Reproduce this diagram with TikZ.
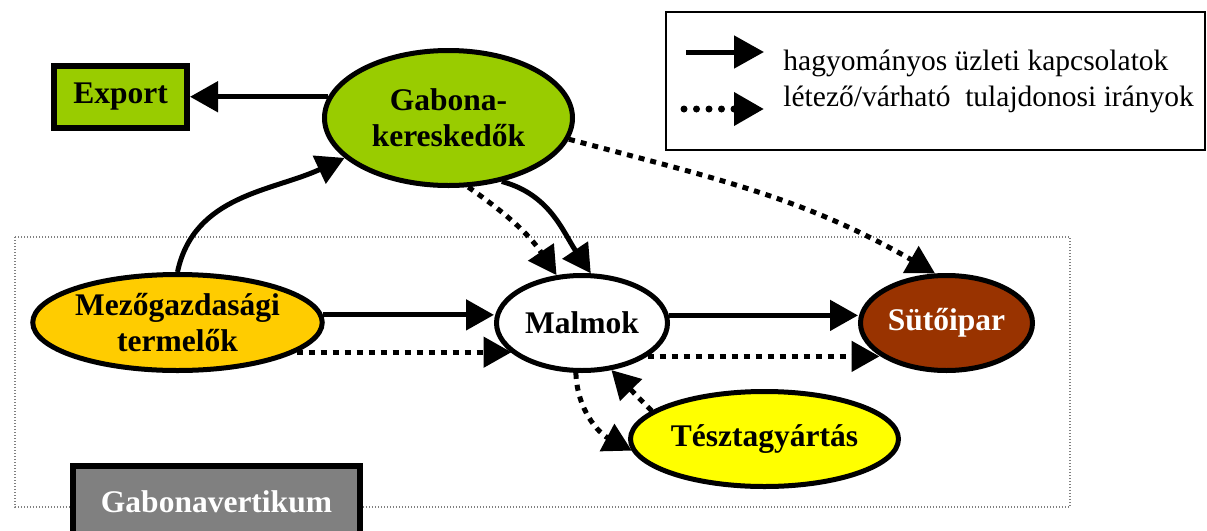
\documentclass[tikz,border=0pt]{standalone}
\usepackage{fontspec}
\setmainfont{Liberation Serif}
\usetikzlibrary{shapes.geometric}
\usetikzlibrary{arrows.meta}
\definecolor{gabgreen}{HTML}{99CC00}
\definecolor{mezyellow}{HTML}{FFCC00}
\definecolor{sutbrown}{HTML}{993300}
\definecolor{teszyellow}{HTML}{FFFF00}
\definecolor{vertgray}{HTML}{808080}
\tikzset{%
  tradearrow/.style = {-{Triangle[length=14pt,width=15pt]},line width=2.5pt},
  ownarrow/.style = {-{Triangle[length=14pt,width=15pt]},line width=2.5pt,
        dash pattern=on 3pt off 3pt},
  e/.style = {ellipse,draw,line width=2.5pt,inner sep=0pt,align=center,
        font=\bfseries\fontsize{15.75}{18}\selectfont},
  b/.style = {rectangle,draw,line width=3pt,inner sep=0pt,
        font=\bfseries\fontsize{15.75}{18}\selectfont},
  k/.style = {anchor=base west,inner sep=0pt,
        font=\fontsize{14.75}{17}\selectfont}
}
\begin{document}
\begin{tikzpicture}[x=0.5pt,y=-0.5pt]
    \useasboundingbox (0,0) rectangle (1207,531);
    \draw[vertgray,line width=0.6pt,dash pattern=on 0.6pt off 0.9pt]
        (15,237) rectangle (1070,507);
    \draw[line width=0.8pt] (666,12) rectangle (1205,150);

    \coordinate (k1s) at (686,52);
    \coordinate (k1e) at (764,52);
    \coordinate (k2s) at (684,109);
    \coordinate (k2e) at (764,109);
    \draw[line width=2.5pt,-{Triangle[length=15pt,width=16pt]}] (k1s) -- (k1e);
    \draw[line width=3.5pt,line cap=round,dash pattern=on 0pt off 6.25pt,
        -{Triangle[length=15pt,width=16pt]}] (k2s) -- (k2e);
    \node[k] (key1) at (783,70) {hagyományos üzleti kapcsolatok};
    \node[k] (key2) at (783,106) {létező/várható\ \ tulajdonosi irányok};

    \node[b,fill=gabgreen,minimum width=66.5pt,minimum height=31pt] (export)
        at (120.5,97) {Export};
    \node[e,fill=gabgreen,minimum width=124pt,minimum height=67.5pt] (gab)
        at (448.5,118) {Gabona-\\kereskedők};
    \node[e,fill=mezyellow,minimum width=143pt,minimum height=48pt] (mez)
        at (177.5,322.5) {Mezőgazdasági\\termelők};
    \node[e,fill=white,minimum width=85.5pt,minimum height=47.5pt] (malm)
        at (582,323) {Malmok};
    \node[e,fill=sutbrown,text=white,minimum width=86pt,minimum height=47.5pt] (sut)
        at (946.5,323) {Sütőipar};
    \node[e,fill=teszyellow,minimum width=134pt,minimum height=47.5pt] (tesz)
        at (764.5,439) {Tésztagyártás};
    \node[b,fill=vertgray,text=white,minimum width=143.5pt,minimum height=36pt] (vert)
        at (216.5,502) {Gabonavertikum};

    \draw[tradearrow] (gab.170) -- (gab.170 -| export.east);
    \draw[tradearrow] (mez.north) to[out=78,in=205] (gab.201);
    \draw[tradearrow] (mez.3) -- (mez.3 -| malm.west);
    \draw[ownarrow] (mez.-14) -- (mez.-14 -| malm.203);
    \draw[tradearrow] (malm.5) -- (malm.5 -| sut.west);
    \draw[ownarrow] (malm.-27) -- (malm.-27 -| sut.206);
    \draw[ownarrow] (gab.-74) to[out=-35,in=124] (malm.118);
    \draw[tradearrow] (gab.-50) to[out=-15,in=124] (malm.80);
    \draw[ownarrow] (gab.-10) to[out=-15,in=150] (sut.103);
    \draw[ownarrow] (malm.-97) to[out=-88,in=152] (tesz.185);
    \draw[ownarrow] (tesz.166) -- (malm.-58);
\end{tikzpicture}
\end{document}
